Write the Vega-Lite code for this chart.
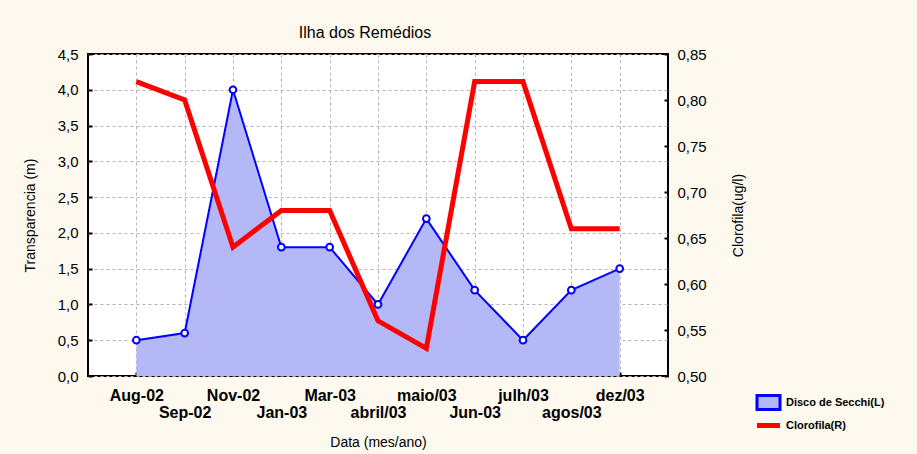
{
  "$schema": "https://vega.github.io/schema/vega-lite/v6.json",
  "autosize": "none",
  "width": 580,
  "height": 322,
  "padding": {"left": 88, "top": 54, "right": 249, "bottom": 78},
  "background": "#fdf9ef",
  "title": {"text": "Ilha dos Remédios", "fontSize": 16, "fontWeight": "normal", "font": "Liberation Sans", "color": "#000000", "anchor": "middle", "offset": 6, "dx": -13},
  "config": {
    "font": "Liberation Sans",
    "view": {"fill": "#ffffff", "stroke": "#000000", "strokeWidth": 2},
    "axis": {"labelColor": "#000000", "titleColor": "#000000", "titleFontWeight": "normal", "domainColor": "#000000", "tickColor": "#000000", "gridColor": "#b4b4b4", "gridDash": [3, 3], "gridWidth": 1}
  },
  "data": {
    "values": [
      {"mes": "Aug-02", "secchi": 0.5, "clorofila": 0.82},
      {"mes": "Sep-02", "secchi": 0.6, "clorofila": 0.80},
      {"mes": "Nov-02", "secchi": 4.0, "clorofila": 0.64},
      {"mes": "Jan-03", "secchi": 1.8, "clorofila": 0.68},
      {"mes": "Mar-03", "secchi": 1.8, "clorofila": 0.68},
      {"mes": "abril/03", "secchi": 1.0, "clorofila": 0.56},
      {"mes": "maio/03", "secchi": 2.2, "clorofila": 0.53},
      {"mes": "Jun-03", "secchi": 1.2, "clorofila": 0.82},
      {"mes": "julh/03", "secchi": 0.5, "clorofila": 0.82},
      {"mes": "agos/03", "secchi": 1.2, "clorofila": 0.66},
      {"mes": "dez/03", "secchi": 1.5, "clorofila": 0.66}
    ]
  },
  "encoding": {
    "x": {
      "field": "mes", "type": "ordinal", "sort": null,
      "scale": {"type": "point", "padding": 1},
      "axis": {
        "title": "Data (mes/ano)", "titleFontSize": 14, "titlePadding": 15,
        "labelAngle": 0, "labelFontSize": 16, "labelFontWeight": "bold", "labelPadding": 15,
        "labelOverlap": false, "labelBound": false, "labelLineHeight": 17,
        "labelExpr": "indexof(['Sep-02','Jan-03','abril/03','Jun-03','agos/03'], datum.value) >= 0 ? [' ', datum.value] : datum.value",
        "grid": true, "ticks": true, "tickSize": -4, "tickWidth": 2, "domain": false
      }
    }
  },
  "layer": [
    {
      "encoding": {
        "y": {
          "field": "secchi", "type": "quantitative",
          "scale": {"domain": [0, 4.5], "nice": false},
          "axis": {
            "title": "Transparencia (m)", "titleFontSize": 14, "titlePadding": 20,
            "values": [0, 0.5, 1, 1.5, 2, 2.5, 3, 3.5, 4, 4.5],
            "labelExpr": "replace(format(datum.value, '.1f'), '.', ',')",
            "labelFontSize": 15, "labelPadding": 14, "labelOverlap": false, "labelBound": false,
            "ticks": true, "tickSize": -4, "tickWidth": 2, "domain": false, "grid": true
          }
        }
      },
      "layer": [
        {
          "mark": {"type": "area", "color": "#b4b8f6", "opacity": 1}
        },
        {
          "mark": {"type": "line", "strokeWidth": 2},
          "encoding": {
            "stroke": {
              "datum": "Disco de Secchi(L)",
              "scale": {"domain": ["Disco de Secchi(L)", "Clorofila(R)"], "range": ["#0000ff", "#ff0000"]},
              "legend": {
                "title": null, "orient": "none", "legendX": 675, "legendY": 343,
                "labelFontSize": 11, "labelFontWeight": "bold", "labelColor": "#000000",
                "symbolSize": 529, "rowPadding": -1, "labelOffset": 12,
                "encode": {
                  "symbols": {
                    "update": {
                      "shape": {"signal": "datum.value == 'Clorofila(R)' ? 'M-1,0H1' : 'M-1,-0.6H1V0.6H-1Z'"},
                      "fill": {"signal": "datum.value == 'Clorofila(R)' ? 'transparent' : '#b4b8f6'"},
                      "strokeWidth": {"signal": "datum.value == 'Clorofila(R)' ? 5 : 3"}
                    }
                  }
                }
              }
            }
          }
        },
        {
          "mark": {"type": "point", "filled": true, "fill": "#ffffff", "stroke": "#0000ff", "strokeWidth": 2, "size": 45, "opacity": 1}
        }
      ]
    },
    {
      "mark": {"type": "line", "strokeWidth": 5, "strokeJoin": "miter"},
      "encoding": {
        "y": {
          "field": "clorofila", "type": "quantitative",
          "scale": {"domain": [0.5, 0.85], "nice": false, "zero": false},
          "axis": {
            "orient": "right", "title": "Clorofila(ug/l)", "titleFontSize": 14, "titlePadding": 39, "titleAngle": 270,
            "values": [0.5, 0.55, 0.6, 0.65, 0.7, 0.75, 0.8, 0.85],
            "labelExpr": "replace(format(datum.value, '.2f'), '.', ',')",
            "labelFontSize": 15, "labelPadding": 13, "labelOverlap": false, "labelBound": false, "grid": false,
            "ticks": true, "tickSize": -4, "tickWidth": 2, "domain": false
          }
        },
        "stroke": {"datum": "Clorofila(R)"}
      }
    }
  ],
  "resolve": {"scale": {"y": "independent"}}
}
